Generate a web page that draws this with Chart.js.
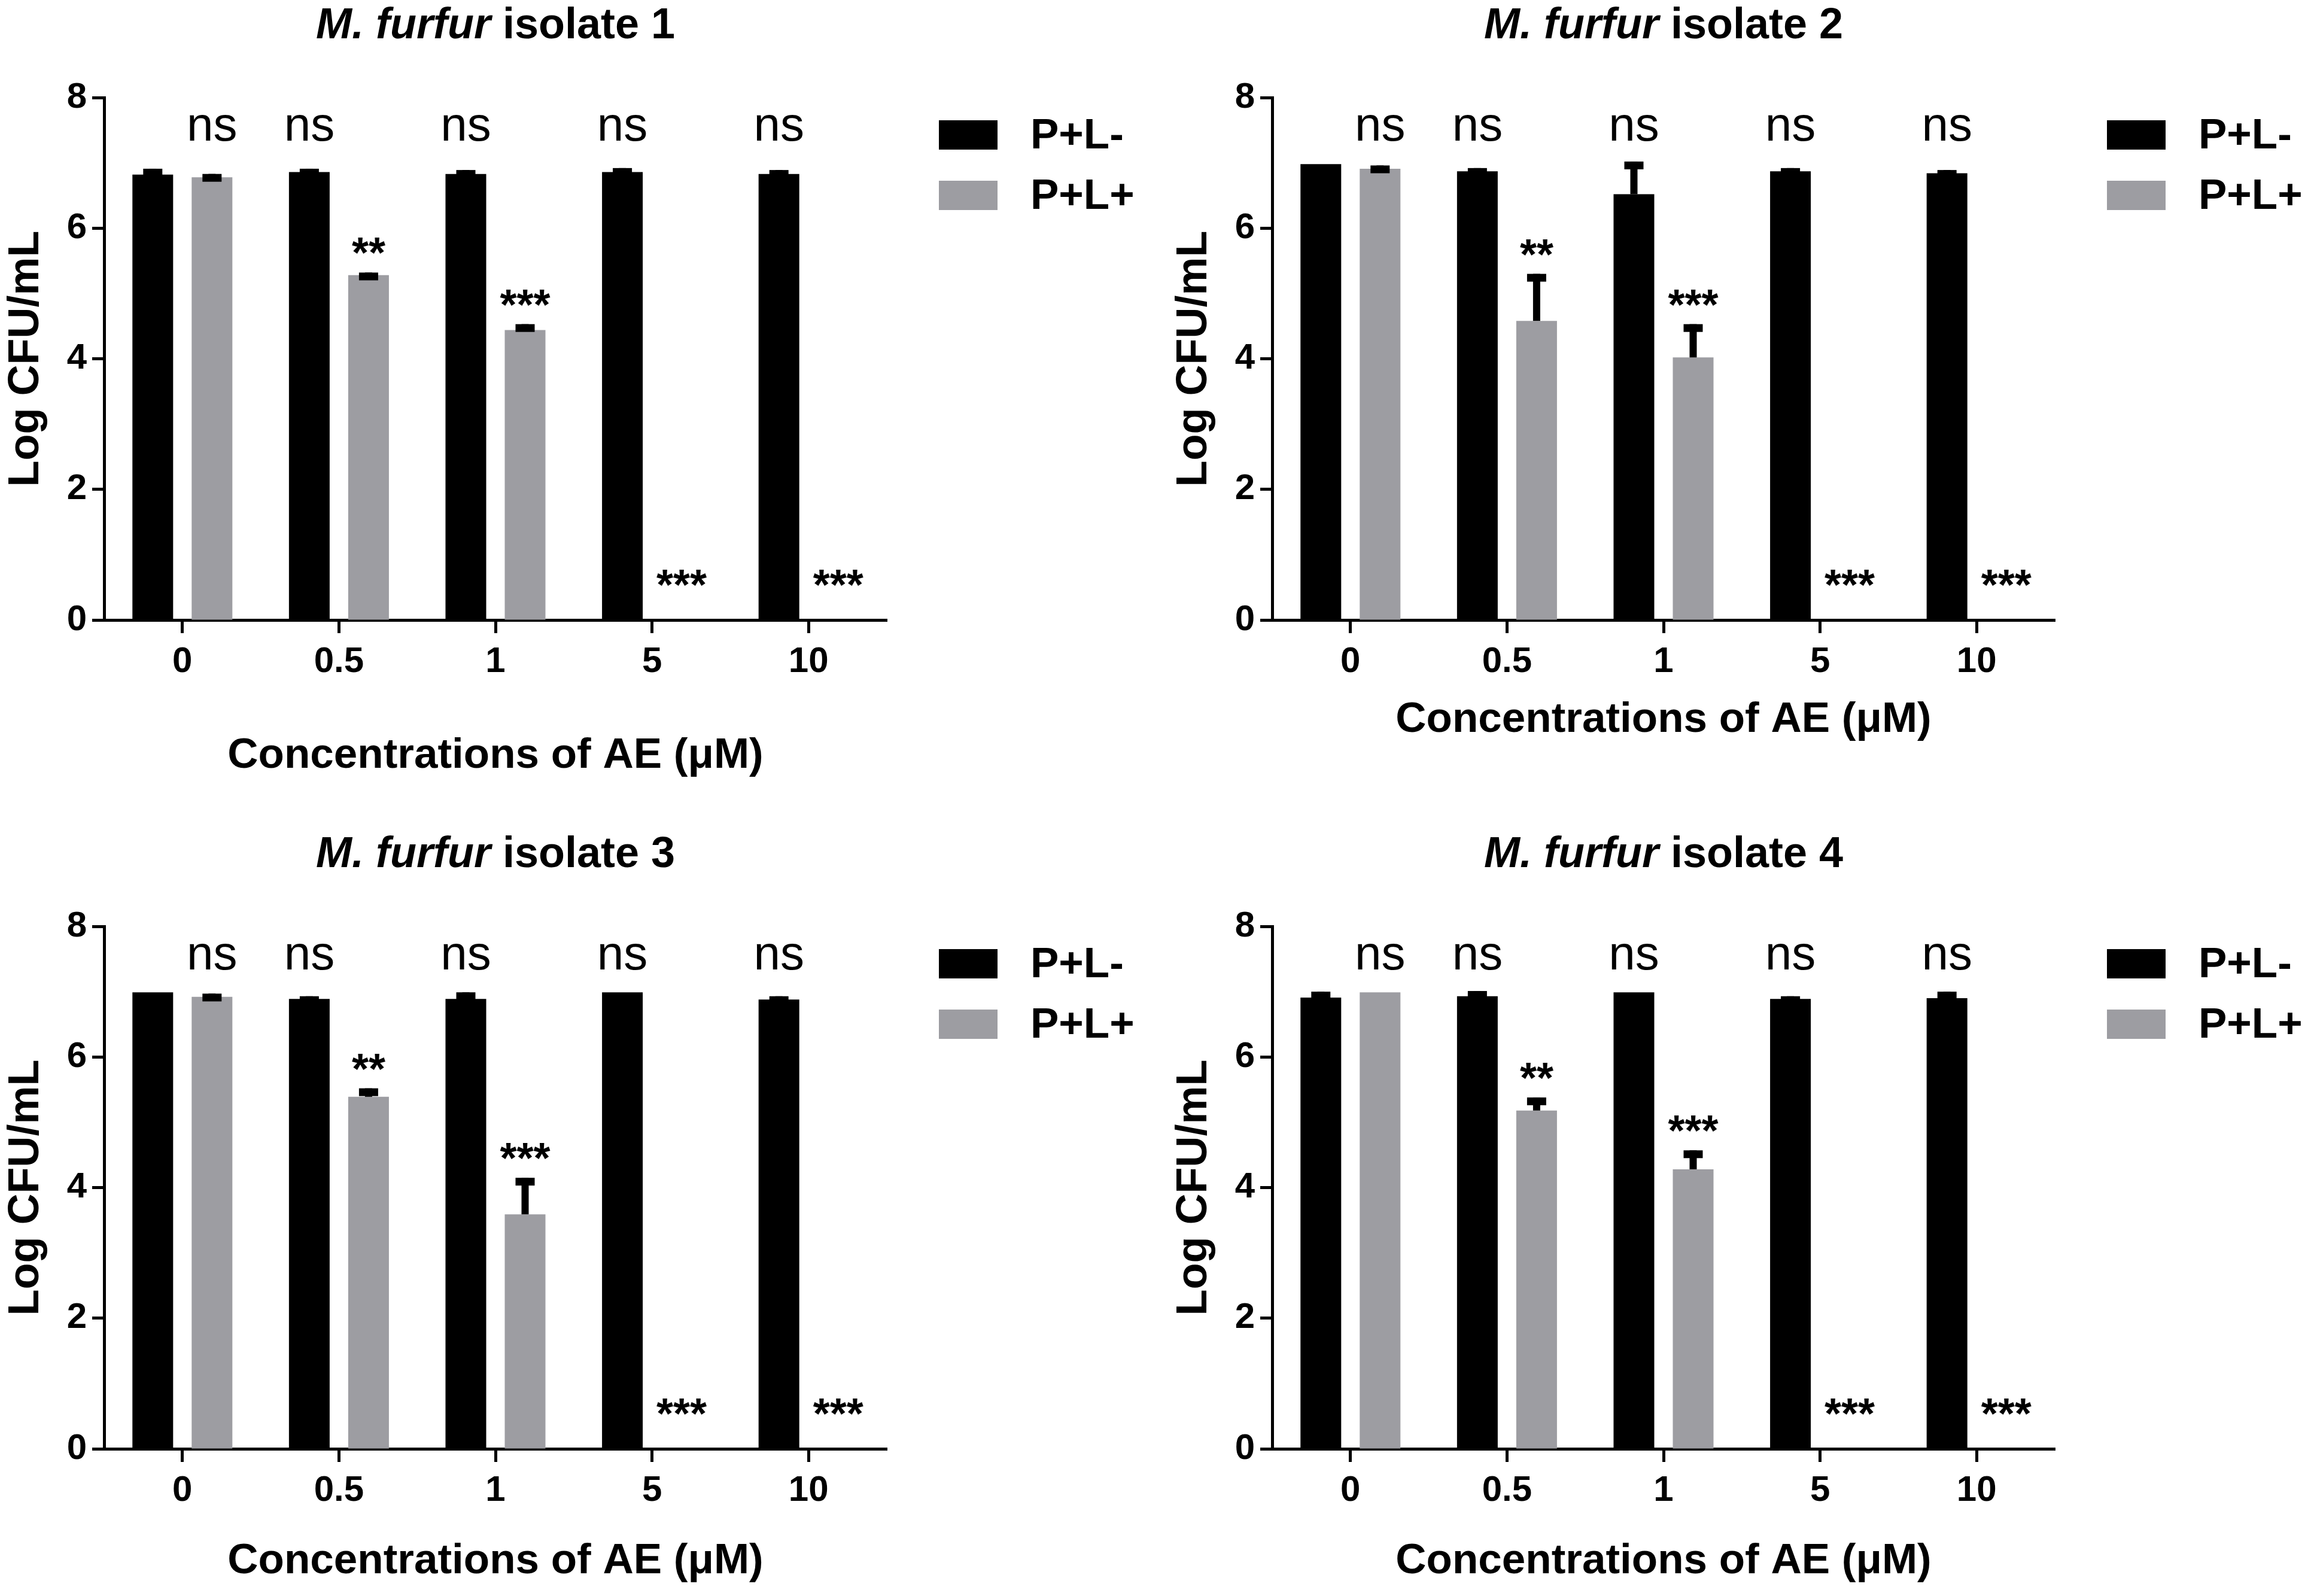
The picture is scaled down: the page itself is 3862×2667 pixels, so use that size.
<!DOCTYPE html>
<html lang="en">
<head>
<meta charset="UTF-8">
<title>M. furfur isolates - Log CFU/mL</title>
<script src="https://cdn.jsdelivr.net/npm/chart.js@4.4.1/dist/chart.umd.min.js"></script>
<style>
    * { margin: 0; padding: 0; box-sizing: border-box; }
    html, body { width: 3862px; height: 2667px; background: #fff; overflow: hidden; }
    canvas { position: absolute; }
</style>
</head>
<body>
<canvas id="iso1" width="1900" height="1330" style="left:0px;top:0px"></canvas>
<canvas id="iso2" width="1900" height="1330" style="left:1952px;top:0px"></canvas>
<canvas id="iso3" width="1900" height="1330" style="left:0px;top:1385px"></canvas>
<canvas id="iso4" width="1900" height="1330" style="left:1952px;top:1385px"></canvas>

<script>
// categories and shared labels
const concentrations = ['0', '0.5', '1', '5', '10'];
const seriesNames = ['P+L-', 'P+L+'];
const yTicks = [0, 2, 4, 6, 8];

// significance marks: "ns" above each group, stars above the P+L+ bar
const nsLabels = ['ns', 'ns', 'ns', 'ns', 'ns'];
const nsOverSeries = [1, 0, 0, 0, 0];
const starLabels = ['', '**', '***', '***', '***'];

// isolate 1
const iso1Dark = [6.82, 6.86, 6.83, 6.86, 6.83];
const iso1DarkErr = [0.09, 0.05, 0.06, 0.06, 0.06];
const iso1Light = [6.78, 5.28, 4.44, 0, 0];
const iso1LightErr = [0.05, 0.04, 0.09, 0, 0];

// isolate 2
const iso2Dark = [6.98, 6.87, 6.52, 6.87, 6.84];
const iso2DarkErr = [0, 0.05, 0.5, 0.05, 0.05];
const iso2Light = [6.91, 4.58, 4.02, 0, 0];
const iso2LightErr = [0.05, 0.72, 0.51, 0, 0];

// isolate 3
const iso3Dark = [6.99, 6.89, 6.89, 6.99, 6.88];
const iso3DarkErr = [0, 0.04, 0.1, 0, 0.05];
const iso3Light = [6.92, 5.39, 3.59, 0, 0];
const iso3LightErr = [0.05, 0.13, 0.56, 0, 0];

// isolate 4
const iso4Dark = [6.91, 6.93, 6.99, 6.89, 6.90];
const iso4DarkErr = [0.09, 0.08, 0, 0.04, 0.1];
const iso4Light = [6.99, 5.18, 4.28, 0, 0];
const iso4LightErr = [0, 0.2, 0.29, 0, 0];

const FONT = "'Liberation Sans', Arial, Helvetica, sans-serif";
const DARK = '#000000';
const LIGHT = '#9d9da2';

// upward-only SEM bars with a flat cap, like GraphPad
const errorBars = {
    id: 'errorBars',
    afterDatasetsDraw(chart) {
        const ctx = chart.ctx;
        const yScale = chart.scales.y;
        chart.data.datasets.forEach((ds, di) => {
            chart.getDatasetMeta(di).data.forEach((bar, i) => {
                const e = ds.errors[i];
                if (!e) return;
                const top = yScale.getPixelForValue(ds.data[i] + e);
                ctx.save();
                ctx.fillStyle = '#000';
                ctx.fillRect(bar.x - 6, top, 12, bar.y - top);
                ctx.fillRect(bar.x - 16, top, 32, 13);
                ctx.restore();
            });
        });
    }
};

// ns / star annotations
const sigMarks = {
    id: 'sigMarks',
    afterDatasetsDraw(chart) {
        const ctx = chart.ctx;
        const yScale = chart.scales.y;
        ctx.save();
        ctx.fillStyle = '#000';
        ctx.textAlign = 'center';
        ctx.textBaseline = 'alphabetic';
        ctx.font = '80px ' + FONT;
        const nsY = yScale.getPixelForValue(7.34);
        nsLabels.forEach((t, i) => {
            const bar = chart.getDatasetMeta(nsOverSeries[i]).data[i];
            ctx.fillText(t, bar.x, nsY);
        });
        ctx.font = 'bold 72px ' + FONT;
        const light = chart.data.datasets[1];
        starLabels.forEach((t, i) => {
            if (!t) return;
            const bar = chart.getDatasetMeta(1).data[i];
            const top = yScale.getPixelForValue(light.data[i] + light.errors[i]);
            ctx.fillText(t, bar.x, Math.min(top - 8, yScale.getPixelForValue(0) - 34));
        });
        ctx.restore();
    }
};

// title with italic species name
const panelTitle = {
    id: 'panelTitle',
    afterDraw(chart, args, opts) {
        const ctx = chart.ctx;
        const area = chart.chartArea;
        ctx.save();
        ctx.fillStyle = '#000';
        ctx.textBaseline = 'alphabetic';
        ctx.font = 'italic bold 72px ' + FONT;
        const a = 'M. furfur';
        const wa = ctx.measureText(a).width;
        ctx.font = 'bold 72px ' + FONT;
        const b = ' isolate ' + opts.num;
        const wb = ctx.measureText(b).width;
        const x0 = (area.left + area.right) / 2 - (wa + wb) / 2;
        ctx.font = 'italic bold 72px ' + FONT;
        ctx.fillText(a, x0, 64);
        ctx.font = 'bold 72px ' + FONT;
        ctx.fillText(b, x0 + wa, 64);
        ctx.restore();
    }
};

// legend to the right of the plot
const sideLegend = {
    id: 'sideLegend',
    afterDraw(chart) {
        const ctx = chart.ctx;
        const x = chart.chartArea.right + 87;
        ctx.save();
        ctx.font = 'bold 71px ' + FONT;
        ctx.textBaseline = 'alphabetic';
        chart.data.datasets.forEach((ds, i) => {
            const y = 201 + i * 101;
            ctx.fillStyle = ds.backgroundColor;
            ctx.fillRect(x, y, 98, 49);
            ctx.fillStyle = '#000';
            ctx.fillText(ds.label, x + 153, y + 47);
        });
        ctx.restore();
    }
};

function makePanel(id, num, dark, darkErr, light, lightErr, xTitlePad) {
    new Chart(document.getElementById(id), {
        type: 'bar',
        data: {
            labels: concentrations,
            datasets: [
                { label: seriesNames[0], data: dark, errors: darkErr, backgroundColor: DARK },
                { label: seriesNames[1], data: light, errors: lightErr, backgroundColor: LIGHT }
            ]
        },
        options: {
            responsive: false,
            animation: false,
            devicePixelRatio: 1,
            categoryPercentage: 0.757,
            barPercentage: 0.687,
            layout: { padding: { top: 163, left: 0, right: 418, bottom: 0 } },
            plugins: {
                legend: { display: false },
                tooltip: { enabled: false },
                panelTitle: { num: num }
            },
            scales: {
                x: {
                    offset: true,
                    grid: { display: true, drawOnChartArea: false, drawTicks: true, offset: false,
                            tickLength: 22, tickWidth: 5, color: '#000' },
                    border: { display: true, color: '#000', width: 5 },
                    ticks: { color: '#000', padding: 12, font: { family: FONT, size: 60, weight: 'bold' } },
                    title: { display: true, text: 'Concentrations of AE (μM)', color: '#000',
                             font: { family: FONT, size: 71, weight: 'bold', lineHeight: 1 },
                             padding: { top: 0, bottom: xTitlePad } },
                    afterFit: s => { s.height = 294; }
                },
                y: {
                    min: 0,
                    max: 8,
                    afterBuildTicks: s => { s.ticks = yTicks.map(v => ({ value: v })); },
                    grid: { display: true, drawOnChartArea: false, drawTicks: true,
                            tickLength: 20, tickWidth: 5, color: '#000' },
                    border: { display: true, color: '#000', width: 5 },
                    ticks: { color: '#000', padding: 9, font: { family: FONT, size: 60, weight: 'bold' } },
                    title: { display: true, text: 'Log CFU/mL', color: '#000',
                             font: { family: FONT, size: 72, weight: 'bold', lineHeight: 1 },
                             padding: { top: 8, bottom: 0 } },
                    afterFit: s => { s.width = 174; }
                }
            }
        },
        plugins: [errorBars, sigMarks, panelTitle, sideLegend]
    });
}

makePanel('iso1', 1, iso1Dark, iso1DarkErr, iso1Light, iso1LightErr, 31);
makePanel('iso2', 2, iso2Dark, iso2DarkErr, iso2Light, iso2LightErr, 91);
makePanel('iso3', 3, iso3Dark, iso3DarkErr, iso3Light, iso3LightErr, 70);
makePanel('iso4', 4, iso4Dark, iso4DarkErr, iso4Light, iso4LightErr, 70);
</script>
</body>
</html>
